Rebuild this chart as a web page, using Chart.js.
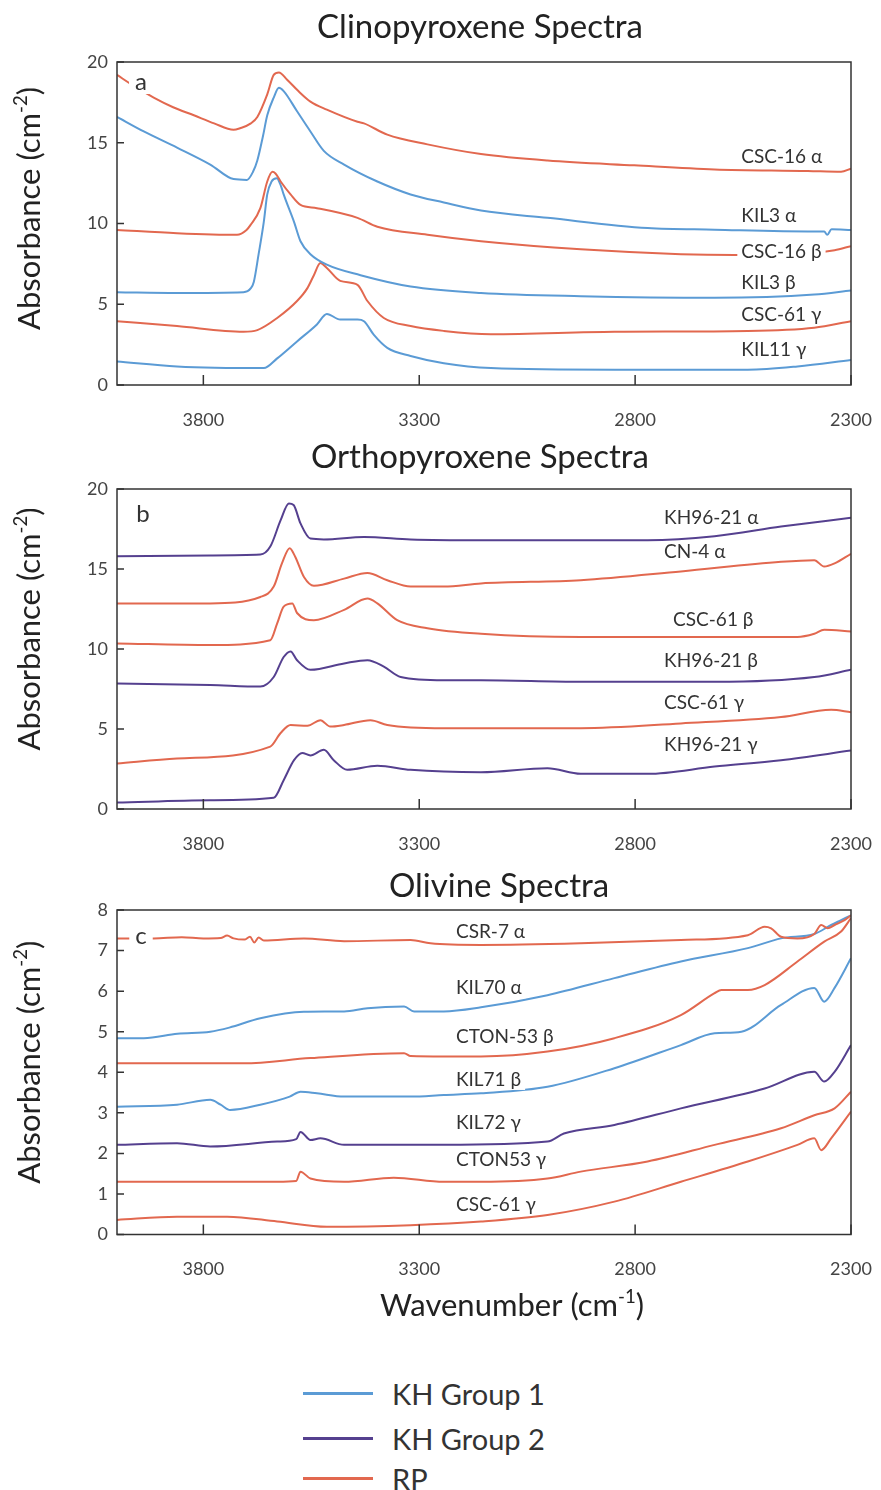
<!DOCTYPE html>
<html lang="en">
<head>
  <meta charset="UTF-8">
  <title>Clinopyroxene, Orthopyroxene and Olivine Spectra</title>
  <script src="https://cdn.jsdelivr.net/npm/chart.js"></script>
  <style>
    body { margin: 0; background: #fff; font-family: Lato, "Open Sans", sans-serif; }
    .panel { position: absolute; left: 0; width: 881px; }
    .legend-row { position: absolute; left: 303px; height: 36px; display: flex; align-items: center; color: #333; font-size: 29px; }
    .legend-row span.line { display: inline-block; width: 70px; height: 3px; margin-right: 19px; }
  </style>
</head>
<body>
  <div class="panel" style="top:0;height:440px"><canvas id="cpxChart"></canvas></div>
  <div class="panel" style="top:440px;height:420px"><canvas id="opxChart"></canvas></div>
  <div class="panel" style="top:860px;height:490px"><canvas id="olChart"></canvas></div>
  <div id="legend"></div>

  <script>
    const FONT = 'Lato, "Open Sans", sans-serif';

    // groups: 0 = KH Group 1, 1 = KH Group 2, 2 = RP
    const legendNames = ['KH Group 1', 'KH Group 2', 'RP'];
    const groupColors = ['#5b9bd5', '#55408f', '#e2684f'];

    const xTicks = [3800, 3300, 2800, 2300];
    const yTicksPx = [0, 5, 10, 15, 20];
    const yTicksOl = [0, 1, 2, 3, 4, 5, 6, 7, 8];

    // --- clinopyroxene (wavenumber, absorbance) ---
    const cpxNames = ['CSC-16 α', 'KIL3 α', 'CSC-16 β', 'KIL3 β', 'CSC-61 γ', 'KIL11 γ'];
    const cpxGroups = [2, 0, 2, 0, 2, 0];
    const cpxCSC16a = [[4000,19.2],[3960,18.5],[3915,17.8],[3870,17.2],[3822,16.7],[3775,16.2],[3730,15.8],[3715,15.9],[3690,16.2],[3675,16.6],[3652,18.0],[3637,19.2],[3625,19.35],[3606,18.9],[3580,18.2],[3552,17.55],[3514,17.05],[3443,16.3],[3428,16.2],[3374,15.5],[3281,14.9],[3157,14.3],[3003,13.9],[2802,13.6],[2616,13.35],[2400,13.25],[2323,13.2],[2300,13.4]];
    const cpxKIL3a = [[4000,16.6],[3938,15.7],[3861,14.7],[3784,13.65],[3730,12.75],[3699,12.7],[3685,13.2],[3675,13.9],[3662,15.4],[3652,16.7],[3637,17.8],[3625,18.4],[3614,18.2],[3583,16.95],[3552,15.7],[3521,14.5],[3474,13.65],[3397,12.6],[3320,11.8],[3243,11.3],[3157,10.8],[3003,10.35],[2771,9.72],[2616,9.62],[2385,9.51],[2362,9.5],[2355,9.3],[2345,9.65],[2300,9.6]];
    const cpxCSC16b = [[4000,9.6],[3861,9.4],[3722,9.3],[3700,9.6],[3691,9.9],[3668,10.95],[3652,12.6],[3640,13.2],[3633,13.1],[3621,12.6],[3598,11.8],[3575,11.15],[3537,10.95],[3443,10.35],[3397,9.8],[3281,9.3],[3157,8.9],[2926,8.4],[2694,8.1],[2570,8.05],[2450,8.1],[2338,8.35],[2300,8.6]];
    const cpxKIL3b = [[4000,5.75],[3861,5.7],[3707,5.75],[3690,6.0],[3683,6.4],[3672,8.1],[3660,10.1],[3652,11.8],[3642,12.6],[3630,12.8],[3620,12.3],[3614,11.8],[3590,10.1],[3575,8.9],[3552,8.1],[3514,7.45],[3436,6.8],[3320,6.1],[3157,5.7],[2926,5.5],[2616,5.4],[2385,5.6],[2300,5.85]];
    const cpxCSC61g = [[4000,3.95],[3861,3.65],[3707,3.3],[3675,3.4],[3629,4.15],[3583,5.2],[3559,6.0],[3544,6.8],[3529,7.55],[3514,7.25],[3483,6.45],[3443,6.2],[3420,5.2],[3382,4.15],[3320,3.65],[3243,3.35],[3134,3.15],[2848,3.3],[2539,3.35],[2385,3.55],[2300,3.95]];
    const cpxKIL11g = [[4000,1.45],[3861,1.15],[3660,1.05],[3629,1.65],[3583,2.7],[3537,3.75],[3514,4.4],[3483,4.05],[3443,4.05],[3428,3.95],[3405,3.1],[3374,2.3],[3320,1.8],[3243,1.35],[3134,1.05],[2848,0.95],[2539,0.95],[2424,1.15],[2300,1.55]];

    // --- orthopyroxene ---
    const opxNames = ['KH96-21 α', 'CN-4 α', 'CSC-61 β', 'KH96-21 β', 'CSC-61 γ', 'KH96-21 γ'];
    const opxGroups = [1, 2, 2, 1, 2, 1];
    const opxKH96a = [[4000,15.8],[3784,15.85],[3668,15.9],[3645,16.4],[3621,18.05],[3602,19.1],[3591,19.0],[3575,17.85],[3552,16.9],[3521,16.85],[3428,17.0],[3320,16.85],[3157,16.8],[2771,16.8],[2616,17.05],[2462,17.65],[2300,18.2]];
    const opxCN4a = [[4000,12.85],[3784,12.85],[3668,13.25],[3637,13.9],[3618,15.35],[3600,16.3],[3587,15.75],[3567,14.5],[3544,13.95],[3474,14.4],[3420,14.75],[3374,14.3],[3320,13.9],[3243,13.9],[3157,14.1],[2926,14.3],[2694,14.85],[2462,15.45],[2385,15.55],[2362,15.15],[2338,15.35],[2300,15.95]];
    const opxCSC61b = [[4000,10.35],[3784,10.25],[3645,10.55],[3629,11.6],[3614,12.65],[3594,12.85],[3583,12.25],[3544,11.8],[3474,12.45],[3420,13.15],[3397,12.85],[3351,11.8],[3281,11.3],[3157,10.95],[2926,10.75],[2616,10.75],[2424,10.75],[2385,10.95],[2362,11.2],[2300,11.1]];
    const opxKH96b = [[4000,7.85],[3784,7.75],[3668,7.65],[3637,8.25],[3614,9.5],[3598,9.85],[3583,9.3],[3552,8.7],[3474,9.1],[3420,9.3],[3382,8.9],[3343,8.25],[3243,8.05],[3157,8.05],[2926,7.95],[2616,7.95],[2385,8.25],[2300,8.7]];
    const opxCSC61g = [[4000,2.85],[3861,3.15],[3645,3.9],[3621,4.75],[3598,5.25],[3559,5.2],[3529,5.55],[3506,5.15],[3474,5.25],[3413,5.55],[3374,5.25],[3243,5.05],[2926,5.05],[2694,5.35],[2462,5.75],[2346,6.2],[2300,6.05]];
    const opxKH96g = [[4000,0.4],[3784,0.55],[3637,0.7],[3614,1.8],[3590,3.05],[3571,3.5],[3552,3.35],[3521,3.7],[3498,3.05],[3467,2.45],[3397,2.7],[3320,2.45],[3157,2.3],[3003,2.55],[2926,2.2],[2771,2.2],[2616,2.65],[2462,3.05],[2300,3.65]];

    // --- olivine ---
    const olNames = ['CSR-7 α', 'KIL70 α', 'CTON-53 β', 'KIL71 β', 'KIL72 γ', 'CTON53 γ', 'CSC-61 γ'];
    const olGroups = [2, 0, 2, 0, 1, 2, 2];
    const olCSR7a = [[4000,7.3],[3915,7.3],[3850,7.33],[3800,7.3],[3760,7.31],[3745,7.37],[3730,7.3],[3705,7.27],[3692,7.34],[3682,7.2],[3672,7.32],[3660,7.25],[3567,7.3],[3474,7.23],[3320,7.26],[3274,7.18],[3157,7.14],[2926,7.18],[2694,7.26],[2539,7.38],[2500,7.59],[2485,7.55],[2462,7.34],[2424,7.3],[2385,7.41],[2369,7.63],[2354,7.55],[2338,7.63],[2315,7.75],[2300,7.87]];
    const olKIL70a = [[4000,4.84],[3938,4.84],[3860,4.95],[3784,5.0],[3740,5.1],[3668,5.33],[3567,5.49],[3474,5.5],[3420,5.58],[3335,5.62],[3312,5.5],[3243,5.5],[3157,5.6],[3003,5.9],[2848,6.32],[2694,6.73],[2539,7.06],[2462,7.3],[2385,7.41],[2346,7.63],[2323,7.75],[2300,7.87]];
    const olCTON53b = [[4000,4.22],[3707,4.22],[3552,4.35],[3335,4.47],[3320,4.4],[3243,4.39],[3157,4.39],[3003,4.51],[2848,4.84],[2694,5.41],[2616,5.95],[2600,6.03],[2539,6.03],[2500,6.15],[2424,6.73],[2362,7.22],[2323,7.47],[2300,7.8]];
    const olKIL71b = [[4000,3.15],[3861,3.2],[3784,3.32],[3760,3.2],[3738,3.07],[3668,3.2],[3600,3.4],[3575,3.52],[3537,3.48],[3474,3.4],[3320,3.4],[3243,3.44],[3157,3.48],[3003,3.64],[2848,4.1],[2694,4.67],[2616,4.96],[2554,5.0],[2462,5.66],[2385,6.08],[2362,5.74],[2338,6.08],[2300,6.81]];
    const olKIL72g = [[4000,2.21],[3861,2.25],[3784,2.17],[3629,2.29],[3585,2.35],[3575,2.53],[3552,2.33],[3529,2.37],[3474,2.21],[3243,2.21],[3003,2.29],[2965,2.49],[2848,2.7],[2694,3.11],[2500,3.6],[2385,4.01],[2362,3.77],[2338,4.01],[2300,4.67]];
    const olCTON53g = [[4000,1.3],[3629,1.3],[3585,1.32],[3575,1.55],[3552,1.38],[3474,1.3],[3359,1.4],[3243,1.3],[3157,1.3],[3003,1.38],[2926,1.55],[2771,1.8],[2616,2.21],[2462,2.62],[2385,2.94],[2338,3.11],[2300,3.52]];
    const olCSC61g = [[4000,0.36],[3861,0.44],[3745,0.44],[3629,0.32],[3514,0.19],[3320,0.23],[3157,0.32],[3003,0.48],[2848,0.81],[2694,1.3],[2539,1.8],[2424,2.21],[2385,2.37],[2369,2.08],[2346,2.37],[2300,3.03]];

    // text with a raised superscript, centred on (cx, cy)
    function richText(ctx, cx, cy, pieces, size) {
      const widths = pieces.map(([t, sup]) => {
        ctx.font = (sup ? size * 0.6 : size) + 'px ' + FONT;
        return ctx.measureText(t).width;
      });
      let x = cx - widths.reduce((a, b) => a + b, 0) / 2;
      ctx.textAlign = 'left';
      ctx.textBaseline = 'middle';
      pieces.forEach(([t, sup], i) => {
        ctx.font = (sup ? size * 0.6 : size) + 'px ' + FONT;
        ctx.fillText(t, x, sup ? cy - size * 0.3 : cy);
        x += widths[i];
      });
    }

    const decor = {
      id: 'decor',
      afterDatasetsDraw(chart, args, o) {
        const { ctx, chartArea: a, scales: { x, y } } = chart;
        ctx.save();

        // curve labels
        ctx.font = '19px ' + FONT;
        ctx.textAlign = 'left';
        ctx.textBaseline = 'middle';
        o.names.forEach((name, i) => {
          const px = x.getPixelForValue(o.labelAt[i][0]);
          const py = y.getPixelForValue(o.labelAt[i][1]);
          const w = ctx.measureText(name).width;
          ctx.fillStyle = '#fff';
          ctx.fillRect(px - 4, py - 10, w + 8, 20);
          ctx.fillStyle = '#333';
          ctx.fillText(name, px, py);
        });

        // panel letter
        ctx.font = '24px ' + FONT;
        const lw = ctx.measureText(o.letter).width;
        ctx.fillStyle = '#fff';
        ctx.fillRect(o.letterAt[0] - lw / 2 - 6, o.letterAt[1] - 12, lw + 12, 24);
        ctx.fillStyle = '#333';
        ctx.textAlign = 'center';
        ctx.fillText(o.letter, o.letterAt[0], o.letterAt[1]);

        // frame and inward ticks
        ctx.strokeStyle = '#333';
        ctx.lineWidth = 1.5;
        ctx.strokeRect(a.left, a.top, a.width, a.height);
        ctx.beginPath();
        y.ticks.forEach(t => {
          const py = y.getPixelForValue(t.value);
          ctx.moveTo(a.left, py);
          ctx.lineTo(a.left + 7, py);
        });
        x.ticks.forEach(t => {
          const px = x.getPixelForValue(t.value);
          ctx.moveTo(px, a.bottom);
          ctx.lineTo(px, a.bottom - 10);
        });
        ctx.stroke();

        // panel title
        ctx.fillStyle = '#222';
        ctx.font = '33px ' + FONT;
        ctx.textAlign = 'center';
        ctx.textBaseline = 'middle';
        ctx.fillText(o.title, o.titleAt[0], o.titleAt[1]);

        // y axis title
        ctx.save();
        ctx.translate(30, (a.top + a.bottom) / 2 + o.yTitleShift);
        ctx.rotate(-Math.PI / 2);
        richText(ctx, 0, 0, [['Absorbance (cm', false], ['-2', true], [')', false]], 31);
        ctx.restore();

        // x axis title
        if (o.xTitleAt) {
          richText(ctx, o.xTitleAt[0], o.xTitleAt[1], [['Wavenumber (cm', false], ['-1', true], [')', false]], 31);
        }
        ctx.restore();
      }
    };

    function panel(id, series, groups, cfg) {
      return new Chart(document.getElementById(id), {
        type: 'line',
        data: {
          datasets: series.map((s, i) => ({
            data: s,
            borderColor: groupColors[groups[i]],
            borderWidth: 2,
            pointRadius: 0,
            cubicInterpolationMode: 'monotone',
            fill: false
          }))
        },
        options: {
          responsive: true,
          maintainAspectRatio: false,
          animation: false,
          events: [],
          layout: { padding: { top: cfg.top, right: 30, left: 0, bottom: 0 } },
          plugins: {
            legend: { display: false },
            tooltip: { enabled: false },
            decor: cfg.decor
          },
          scales: {
            x: {
              type: 'linear',
              reverse: true,
              min: 2300,
              max: 4000,
              afterBuildTicks: s => { s.ticks = xTicks.map(v => ({ value: v })); },
              afterFit: s => { s.height = cfg.xHeight; s.paddingLeft = 0; s.paddingRight = 0; },
              grid: { display: false, drawTicks: false },
              border: { display: false },
              ticks: { padding: 24, maxRotation: 0, color: '#444', font: { family: FONT, size: 18 }, callback: v => String(v) }
            },
            y: {
              min: 0,
              max: cfg.yTicks[cfg.yTicks.length - 1],
              afterBuildTicks: s => { s.ticks = cfg.yTicks.map(v => ({ value: v })); },
              afterFit: s => { s.width = 117; s.paddingTop = 0; s.paddingBottom = 0; },
              grid: { display: false, drawTicks: false },
              border: { display: false },
              ticks: { padding: 9, color: '#444', font: { family: FONT, size: 18 }, callback: v => String(v) }
            }
          }
        },
        plugins: [decor]
      });
    }

    panel('cpxChart', [cpxCSC16a, cpxKIL3a, cpxCSC16b, cpxKIL3b, cpxCSC61g, cpxKIL11g], cpxGroups, {
      top: 62, xHeight: 55, yTicks: yTicksPx,
      decor: {
        names: cpxNames,
        labelAt: [[2554, 14.14], [2554, 10.48], [2554, 8.25], [2554, 6.33], [2554, 4.35], [2554, 2.19]],
        letter: 'a', letterAt: [141, 82],
        title: 'Clinopyroxene Spectra', titleAt: [480, 27],
        yTitleShift: -15
      }
    });

    panel('opxChart', [opxKH96a, opxCN4a, opxCSC61b, opxKH96b, opxCSC61g, opxKH96g], opxGroups, {
      top: 49, xHeight: 51, yTicks: yTicksPx,
      decor: {
        names: opxNames,
        labelAt: [[2733, 18.19], [2733, 16.06], [2712, 11.81], [2733, 9.25], [2733, 6.63], [2733, 4.0]],
        letter: 'b', letterAt: [143, 74],
        title: 'Orthopyroxene Spectra', titleAt: [480, 17],
        yTitleShift: -20
      }
    });

    panel('olChart', [olCSR7a, olKIL70a, olCTON53b, olKIL71b, olKIL72g, olCTON53g, olCSC61g], olGroups, {
      top: 50, xHeight: 115.5, yTicks: yTicksOl,
      decor: {
        names: olNames,
        labelAt: [[3215, 7.47], [3215, 6.07], [3215, 4.86], [3215, 3.81], [3215, 2.74], [3215, 1.84], [3215, 0.73]],
        letter: 'c', letterAt: [141, 76],
        title: 'Olivine Spectra', titleAt: [499, 26],
        yTitleShift: -10,
        xTitleAt: [512, 446]
      }
    });

    // legend below the panels
    const legendTops = [1375, 1420, 1460];
    const legend = document.getElementById('legend');
    legendNames.forEach((name, i) => {
      const row = document.createElement('div');
      row.className = 'legend-row';
      row.style.top = legendTops[i] + 'px';
      row.innerHTML = '<span class="line" style="background:' + groupColors[i] + '"></span>' + name;
      legend.appendChild(row);
    });
  </script>
</body>
</html>
